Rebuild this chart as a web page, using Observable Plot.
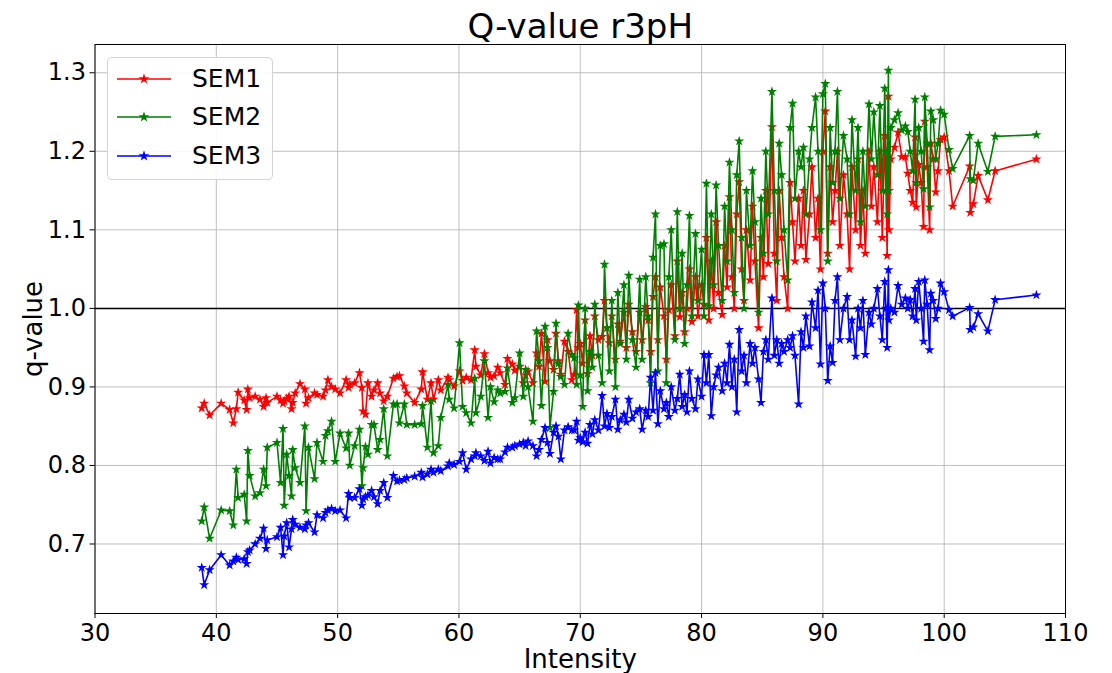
<!DOCTYPE html>
<html>
<head>
<meta charset="utf-8">
<script src="https://cdn.jsdelivr.net/npm/d3@7"></script>
<script src="https://cdn.jsdelivr.net/npm/@observablehq/plot@0.6"></script>
<style>
  html, body { margin: 0; padding: 0; background: #fff; }
  #wrap { position: relative; width: 1112px; height: 673px; font-family: "DejaVu Sans", sans-serif; }
  #legend { position: absolute; left: 107px; top: 57px; width: 166px; height: 123px; box-sizing: border-box;
            border: 1px solid #d4d4d4; border-radius: 5px; background: rgba(255,255,255,0.9); }
  .lrow { position: absolute; left: 0; height: 30px; width: 166px; }
  .lrow svg { position: absolute; left: 8px; top: 0; }
  .lrow span { position: absolute; left: 84px; top: 0; line-height: 30px; font-size: 25px; color: #000; }
</style>
</head>
<body>
<div id="wrap">
  <div id="chart"></div>
  <div id="legend"></div>
</div>
<script>
// ---- data ----
const intensity = [
  38.8, 39.0, 39.45, 40.4, 41.1, 41.4, 41.65, 41.8, 42.3, 42.5,
  42.6, 42.75, 43.2, 43.6, 43.9, 44.1, 44.2, 45.0, 45.3, 45.5,
  45.6, 45.8, 46.0, 46.2, 46.3, 46.5, 46.9, 47.3, 47.4, 47.6,
  48.1, 48.3, 48.8, 49.0, 49.2, 49.5, 49.8, 50.2, 50.7, 50.9,
  51.0, 51.4, 51.8, 52.0, 52.1, 52.3, 52.5, 52.8, 53.0, 53.3,
  53.5, 53.8, 54.1, 54.6,
  54.9, 55.1, 55.5, 55.7, 56.35, 56.9, 57.0, 57.4, 57.7, 57.9,
  58.3, 58.5, 59.1, 59.2, 59.6, 60.05, 60.3, 60.6, 61.0, 61.3,
  61.4, 61.8, 62.1, 62.4, 62.6, 62.9, 63.2, 63.4, 63.8, 64.0,
  64.4, 64.6, 65.0, 65.3, 65.5, 65.7, 66.1, 66.4, 66.6, 66.8,
  67.1, 67.3, 67.5, 67.8, 68.0, 68.2, 68.4, 68.7, 69.0, 69.3,
  69.5, 69.7, 69.85,
  70.0, 70.2, 70.4, 70.6, 70.8, 71.0, 71.2, 71.5, 71.8, 72.0,
  72.2, 72.4, 72.6, 72.9, 73.1, 73.3, 73.6, 73.8, 74.0, 74.3,
  74.6, 74.9, 75.1, 75.4, 75.6, 75.8, 76.0, 76.2, 76.4, 76.6,
  76.9, 77.1, 77.3, 77.5, 77.8, 78.0, 78.2, 78.4, 78.6, 78.8,
  79.0, 79.2, 79.5, 79.7, 80.0,
  80.2, 80.4, 80.6, 80.8, 81.0, 81.2, 81.4, 81.7, 81.9, 82.1,
  82.3, 82.5, 82.7, 82.9, 83.1, 83.3, 83.5, 83.7, 84.0, 84.2,
  84.4, 84.7, 84.9, 85.1, 85.3, 85.5, 85.8, 86.0, 86.2, 86.4,
  86.6, 86.8, 87.1, 87.3, 87.5, 87.7, 88.0, 88.2, 88.4, 88.6,
  88.9, 89.1, 89.4, 89.6, 89.8, 90.0, 90.2, 90.4, 90.6, 90.8,
  91.0, 91.2, 91.4, 91.7, 92.0, 92.2, 92.4, 92.7, 92.9, 93.1,
  93.3, 93.5, 93.8, 94.0, 94.2, 94.5, 94.7, 94.9, 95.1, 95.2,
  95.3, 95.4, 95.45,
  95.6, 95.9, 96.2, 96.5, 96.8, 97.0, 97.2, 97.4, 97.6, 97.7,
  97.9, 98.1, 98.3, 98.4, 98.6, 98.8, 98.9, 99.1, 99.3, 99.5,
  99.7, 100.0, 100.4, 100.7, 102.1, 102.15, 102.4, 102.8, 103.6, 104.2,
  107.6
];

const sem1 = [
  0.873, 0.879, 0.864, 0.879, 0.871, 0.854, 0.872, 0.893, 0.883, 0.871,
  0.897, 0.886, 0.888, 0.884, 0.875, 0.886, 0.880, 0.888, 0.883, 0.879,
  0.882, 0.885, 0.888, 0.872, 0.880, 0.892, 0.904, 0.897, 0.879, 0.886,
  0.892, 0.890, 0.888, 0.896, 0.909, 0.900, 0.897, 0.892, 0.909, 0.899,
  0.903, 0.905, 0.918, 0.899, 0.869, 0.865, 0.905, 0.888, 0.896, 0.905,
  0.892, 0.882, 0.888, 0.911,
  0.913, 0.914, 0.901, 0.892, 0.880, 0.897, 0.919, 0.884, 0.905, 0.884,
  0.909, 0.896, 0.912, 0.909, 0.901, 0.920, 0.908, 0.912, 0.909, 0.947,
  0.926, 0.915, 0.942, 0.918, 0.912, 0.914, 0.925, 0.918, 0.903, 0.936,
  0.929, 0.921, 0.926, 0.905, 0.915, 0.920, 0.905, 0.943, 0.926, 0.968,
  0.907, 0.960, 0.933, 0.922, 0.968, 0.933, 0.916, 0.958, 0.945, 0.909,
  0.916, 0.998, 0.950,
  0.955, 0.930, 0.985, 0.917, 0.965, 0.940, 0.990, 0.960, 0.964, 1.010,
  0.975, 0.956, 0.990, 0.935, 0.980, 0.958, 0.995, 0.950, 1.005, 0.970,
  0.945, 0.995, 0.960, 1.002, 0.985, 0.945, 1.015, 1.040, 0.960, 1.027,
  0.990, 0.935, 0.998, 1.030, 0.965, 1.060, 0.989, 1.020, 0.970, 1.000,
  1.050, 0.983, 1.040, 0.990, 1.030,
  1.005, 1.090, 0.985, 1.060, 1.000, 1.110, 1.020, 0.992, 1.080, 1.027,
  1.142, 1.040, 1.000, 1.120, 1.161, 1.050, 1.010, 1.100, 1.036, 1.130,
  1.060, 0.975, 1.090, 1.040, 1.150, 1.057, 1.231, 1.070, 1.010, 1.150,
  1.090, 1.040, 1.000, 1.160, 1.110, 1.060, 1.140, 1.080, 1.150, 1.062,
  1.120, 1.180, 1.090, 1.140, 1.050, 1.200, 1.251, 1.070, 1.180, 1.110,
  1.150, 1.200, 1.080, 1.170, 1.120, 1.050, 1.180, 1.100, 1.190, 1.080,
  1.150, 1.070, 1.200, 1.130, 1.180, 1.110, 1.200, 1.090, 1.220, 1.150,
  1.067, 1.270, 1.100,
  1.190, 1.205, 1.224, 1.193, 1.193, 1.172, 1.150, 1.135, 1.218, 1.129,
  1.183, 1.160, 1.104, 1.238, 1.180, 1.100, 1.210, 1.190, 1.148, 1.175,
  1.215, 1.218, 1.175, 1.130, 1.181, 1.122, 1.133, 1.169, 1.138, 1.175,
  1.190
];

const sem2 = [
  0.729, 0.747, 0.707, 0.743, 0.742, 0.724, 0.795, 0.759, 0.763, 0.729,
  0.819, 0.787, 0.761, 0.765, 0.795, 0.774, 0.823, 0.829, 0.778, 0.847,
  0.749, 0.814, 0.787, 0.761, 0.820, 0.797, 0.778, 0.850, 0.742, 0.823,
  0.783, 0.829, 0.805, 0.838, 0.844, 0.856, 0.805, 0.841, 0.822, 0.841,
  0.800, 0.825, 0.846, 0.774, 0.797, 0.824, 0.814, 0.852, 0.852, 0.820,
  0.833, 0.872, 0.812, 0.878,
  0.878, 0.854, 0.878, 0.852, 0.852, 0.853, 0.876, 0.823, 0.882, 0.816,
  0.825, 0.861, 0.903, 0.884, 0.873, 0.956, 0.875, 0.867, 0.854, 0.911,
  0.867, 0.888, 0.933, 0.861, 0.900, 0.881, 0.896, 0.892, 0.894, 0.924,
  0.880, 0.886, 0.943, 0.888, 0.922, 0.900, 0.856, 0.971, 0.933, 0.876,
  0.977, 0.950, 0.848, 0.894, 0.981, 0.930, 0.913, 0.903, 0.968, 0.941,
  0.937, 0.903, 1.004,
  0.915, 0.875, 1.000, 0.895, 0.945, 0.925, 1.005, 0.940, 0.905, 1.056,
  0.975, 0.920, 1.010, 0.900, 1.020, 0.955, 1.030, 0.935, 1.042, 0.960,
  0.925, 1.037, 0.935, 1.040, 0.990, 0.905, 1.065, 1.120, 0.920, 1.080,
  1.082, 0.905, 1.040, 1.100, 0.960, 1.123, 1.000, 1.070, 0.955, 1.030,
  1.118, 0.990, 1.095, 1.010, 1.075,
  0.990, 1.159, 1.003, 1.120, 1.030, 1.157, 1.080, 1.010, 1.130, 1.060,
  1.186, 1.100, 1.020, 1.170, 1.213, 1.090, 1.000, 1.150, 1.080, 1.175,
  1.110, 0.995, 1.140, 1.070, 1.200, 1.120, 1.276, 1.150, 1.060, 1.210,
  1.170, 1.100, 1.036, 1.230, 1.261, 1.140, 1.200, 1.180, 1.205, 1.120,
  1.190, 1.230, 1.269, 1.200, 1.100, 1.273, 1.286, 1.060, 1.230, 1.160,
  1.200, 1.276, 1.140, 1.220, 1.190, 1.120, 1.240, 1.150, 1.230, 1.110,
  1.200, 1.130, 1.260, 1.190, 1.250, 1.170, 1.258, 1.150, 1.280, 1.200,
  1.120, 1.303, 1.150,
  1.230, 1.240, 1.249, 1.227, 1.232, 1.225, 1.200, 1.175, 1.266, 1.160,
  1.230, 1.200, 1.152, 1.269, 1.210, 1.129, 1.251, 1.240, 1.190, 1.210,
  1.252, 1.247, 1.202, 1.178, 1.220, 1.165, 1.163, 1.210, 1.174, 1.219,
  1.221
];

const sem3 = [
  0.670, 0.648, 0.667, 0.686, 0.673, 0.678, 0.683, 0.680, 0.681, 0.675,
  0.690, 0.692, 0.700, 0.707, 0.720, 0.694, 0.705, 0.709, 0.721, 0.686,
  0.710, 0.727, 0.696, 0.719, 0.731, 0.725, 0.721, 0.719, 0.724, 0.727,
  0.715, 0.737, 0.733, 0.740, 0.743, 0.745, 0.742, 0.743, 0.733, 0.764,
  0.759, 0.759, 0.770, 0.749, 0.757, 0.760, 0.762, 0.768, 0.760, 0.751,
  0.768, 0.778, 0.759, 0.787,
  0.780, 0.781, 0.782, 0.784, 0.786, 0.791, 0.785, 0.789, 0.795, 0.791,
  0.795, 0.793, 0.799, 0.803, 0.801, 0.805, 0.816, 0.795, 0.808, 0.812,
  0.816, 0.812, 0.806, 0.818, 0.803, 0.810, 0.808, 0.808, 0.817, 0.823,
  0.823, 0.825, 0.827, 0.829, 0.825, 0.831, 0.825, 0.812, 0.820, 0.833,
  0.848, 0.829, 0.815, 0.842, 0.850, 0.837, 0.808, 0.845, 0.849, 0.845,
  0.845, 0.856, 0.832,
  0.835, 0.830, 0.842, 0.828, 0.852, 0.840, 0.858, 0.845, 0.889, 0.850,
  0.866, 0.848, 0.862, 0.884, 0.846, 0.858, 0.865, 0.855, 0.884, 0.860,
  0.868, 0.872, 0.846, 0.870, 0.862, 0.912, 0.870, 0.918, 0.853, 0.895,
  0.872, 0.880, 0.862, 0.900, 0.870, 0.885, 0.916, 0.875, 0.890, 0.868,
  0.920, 0.885, 0.872, 0.910, 0.888,
  0.941, 0.905, 0.941, 0.863, 0.900, 0.915, 0.925, 0.895, 0.930, 0.905,
  0.954, 0.900, 0.935, 0.868, 0.973, 0.920, 0.940, 0.905, 0.955, 0.930,
  0.950, 0.910, 0.880, 0.945, 0.960, 0.935, 1.013, 0.940, 0.960, 0.930,
  0.955, 0.945, 0.960, 0.950, 0.965, 0.940, 0.878, 0.970, 0.950, 0.990,
  0.952, 1.008, 0.975, 1.023, 0.929, 1.032, 1.000, 0.908, 0.952, 0.931,
  1.010, 1.040, 0.960, 1.000, 1.015, 0.960, 0.985, 0.939, 1.000, 0.975,
  1.010, 0.941, 0.995, 0.980, 1.000, 1.025, 0.990, 0.960, 1.034, 1.000,
  0.950, 1.049, 0.985,
  1.000, 0.995, 1.029, 1.005, 1.013, 1.000, 1.011, 0.990, 1.025, 0.985,
  1.034, 1.000, 0.958, 1.036, 1.005, 0.947, 1.019, 1.010, 0.987, 1.000,
  1.032, 1.021, 0.998, 0.990, 1.001, 0.973, 0.976, 0.993, 0.971, 1.011,
  1.017
];

const seriesNames = ["SEM1", "SEM2", "SEM3"];
const seriesColors = ["#ff0000", "#008000", "#0000ff"];
const xTicks = [30, 40, 50, 60, 70, 80, 90, 100, 110];
const yTicks = [0.7, 0.8, 0.9, 1.0, 1.1, 1.2, 1.3];
const refLine = [1.0];
const titleText = "Q-value r3pH";
const xLabel = "Intensity";
const yLabel = "q-value";

// ---- build chart ----
const seriesValues = [sem1, sem2, sem3];
const tables = seriesValues.map((vals, s) =>
  intensity.map((x, i) => ({ x, y: vals[i], series: seriesNames[s] })));

const marks = [
  Plot.gridX(xTicks, { stroke: "#b0b0b0", strokeOpacity: 0.8, strokeWidth: 1 }),
  Plot.gridY(yTicks, { stroke: "#b0b0b0", strokeOpacity: 0.8, strokeWidth: 1 }),
  Plot.ruleY(refLine, { stroke: "#000", strokeWidth: 1.5 })
];
tables.forEach((t, s) => {
  marks.push(Plot.line(t, { x: "x", y: "y", stroke: seriesColors[s], strokeWidth: 1.6 }));
  marks.push(Plot.dot(t, { x: "x", y: "y", symbol: "star", fill: seriesColors[s], r: 3.2 }));
});
marks.push(Plot.frame({ stroke: "#000", strokeWidth: 1 }));
marks.push(Plot.axisX(xTicks, { tickSize: 5, tickPadding: 5, fontSize: 24, label: null, tickFormat: d => String(d) }));
marks.push(Plot.axisY(yTicks, { tickSize: 5, tickPadding: 4, fontSize: 24, label: null, tickFormat: d3.format(".1f") }));
marks.push(Plot.text([titleText], { text: d => d, frameAnchor: "top", lineAnchor: "middle", textAnchor: "middle", dy: -17, fontSize: 34, fill: "#000" }));
marks.push(Plot.text([xLabel], { text: d => d, frameAnchor: "bottom", lineAnchor: "middle", textAnchor: "middle", dy: 46, fontSize: 26, fill: "#000" }));
marks.push(Plot.text([yLabel], { text: d => d, frameAnchor: "left", lineAnchor: "middle", textAnchor: "middle", dx: -61, rotate: -90, fontSize: 26, fill: "#000" }));

const chart = Plot.plot({
  width: 1112,
  height: 673,
  marginLeft: 94.5,
  marginRight: 47,
  marginTop: 44,
  marginBottom: 60,
  style: { fontFamily: "DejaVu Sans", color: "#000", background: "#fff", overflow: "visible" },
  x: { domain: [30, 110] },
  y: { domain: [0.6115, 1.336] },
  marks
});
document.getElementById("chart").appendChild(chart);

// ---- legend (HTML) ----
const legend = document.getElementById("legend");
const starPath = d3.symbol(d3.symbolStar, Math.PI * 3.4 * 3.4)();
const centers = [20.5, 59, 97.5];
seriesNames.forEach((name, s) => {
  const row = document.createElement("div");
  row.className = "lrow";
  row.style.top = (centers[s] - 15) + "px";
  row.innerHTML =
    `<svg width="60" height="30"><line x1="1" y1="15" x2="55" y2="15" stroke="${seriesColors[s]}" stroke-width="1.6"/>` +
    `<path d="${starPath}" transform="translate(28,15)" fill="${seriesColors[s]}"/></svg>` +
    `<span>${name}</span>`;
  legend.appendChild(row);
});
</script>
</body>
</html>
